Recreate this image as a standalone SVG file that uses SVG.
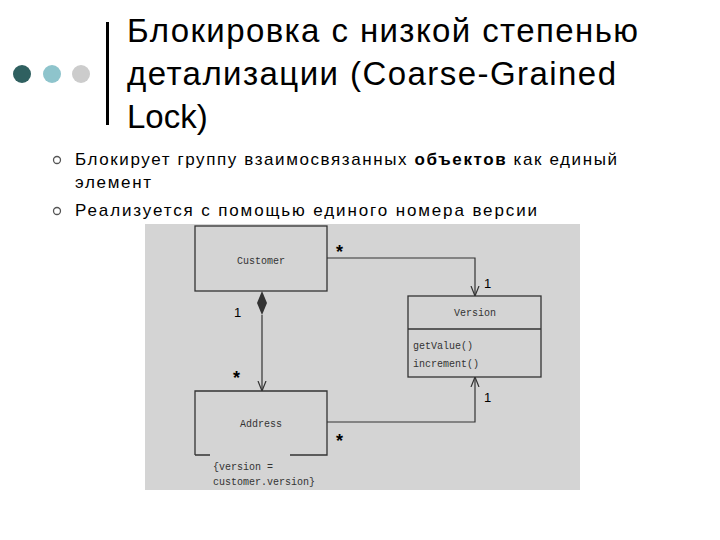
<svg xmlns="http://www.w3.org/2000/svg" width="720" height="540" viewBox="0 0 720 540">
<style>
.t{font-family:"Liberation Sans",Arial,sans-serif;fill:#000}
.m{font-family:"Liberation Mono","Courier New",monospace;font-size:10px;fill:#333}
.b{fill:none;stroke:#333;stroke-width:1.3}
.l{fill:none;stroke:#333;stroke-width:1.2}
</style>
<defs>
<marker id="v" viewBox="0 0 10 10" refX="10" refY="5" markerWidth="10" markerHeight="10" orient="auto" markerUnits="userSpaceOnUse"><path d="M0,1 L10,5 L0,9" fill="none" stroke="#333" stroke-width="1.2"/></marker>
</defs>
<rect width="720" height="540" fill="#fff"/>
<circle cx="22" cy="74" r="9" fill="#2f6060"/>
<circle cx="52" cy="74" r="9" fill="#8ec4cc"/>
<circle cx="81" cy="74" r="9" fill="#cccccc"/>
<rect x="106" y="22" width="3" height="103" fill="#000"/>
<text class="t" font-size="33"><tspan x="127" y="42" textLength="511" lengthAdjust="spacing">Блокировка с низкой степенью</tspan><tspan x="127" y="85" textLength="489" lengthAdjust="spacing">детализации (Coarse-Grained</tspan><tspan x="127" y="128">Lock)</tspan></text>
<circle cx="57" cy="160" r="3.5" fill="none" stroke="#555" stroke-width="1.3"/>
<circle cx="57" cy="211" r="3.5" fill="none" stroke="#555" stroke-width="1.3"/>
<text class="t" font-size="17" x="75" y="165" textLength="542" lengthAdjust="spacing">Блокирует группу взаимосвязанных <tspan font-weight="bold">объектов</tspan> как единый</text>
<text class="t" font-size="17" x="75" y="188" textLength="76" lengthAdjust="spacing">элемент</text>
<text class="t" font-size="17" x="75" y="216" textLength="462" lengthAdjust="spacing">Реализуется с помощью  единого  номера версии</text>
<rect x="145" y="224" width="435" height="266" fill="#d4d4d4"/>
<g id="customer"><rect class="b" x="195" y="226" width="132" height="65"/><text class="m" x="261" y="264" text-anchor="middle">Customer</text></g>
<g id="version"><rect class="b" x="408" y="296" width="133" height="81"/><line class="b" x1="408" y1="329" x2="541" y2="329"/><text class="m" x="475" y="316" text-anchor="middle">Version</text><text class="m" x="413" y="349">getValue()</text><text class="m" x="413" y="367">increment()</text></g>
<g id="address"><path class="b" d="M195,455 V391 H327 V455 H290 M195,455 H210"/><text class="m" x="261" y="427" text-anchor="middle">Address</text><text class="m" x="213" y="470">{version =</text><text class="m" x="213" y="485">customer.version}</text></g>
<g id="connectors">
<path class="l" d="M327,258 H475 V296" marker-end="url(#v)"/>
<path class="l" d="M327,422 H475 V377" marker-end="url(#v)"/>
<path d="M262,291 L267,303 L262,315 L257,303 Z" fill="#333"/>
<path class="l" d="M262,315 V391" marker-end="url(#v)"/>
<g class="t" font-size="13"><text x="484" y="288">1</text><text x="234" y="317">1</text><text x="484" y="402">1</text></g>
<g class="t" font-size="18" font-weight="bold"><text x="336" y="258">*</text><text x="233" y="384">*</text><text x="336" y="447">*</text></g>
</g>
</svg>
